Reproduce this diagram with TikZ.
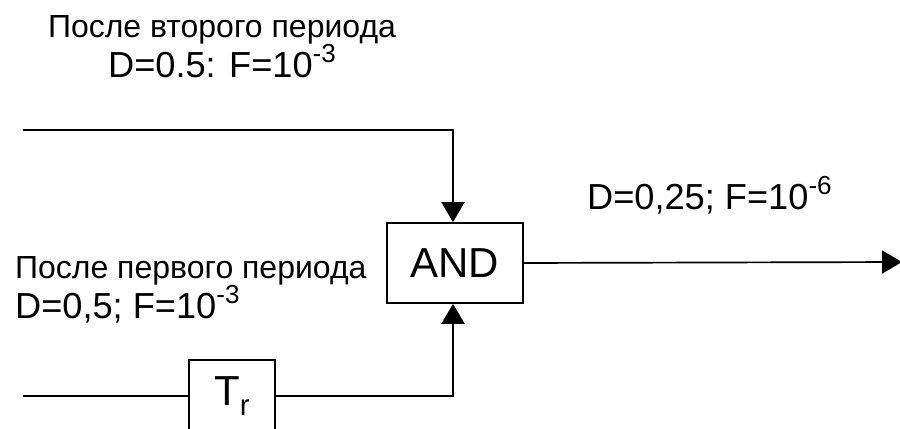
\documentclass[tikz,border=0pt]{standalone}
\usepackage{graphicx}
\usepackage{fontspec}
\setmainfont{Liberation Sans}
\usetikzlibrary{arrows.meta}

\newcommand{\cyrsize}{\fontsize{45.5}{57}\selectfont}
\newcommand{\latsize}{\fontsize{51.5}{61}\selectfont}
\newcommand{\expo}[1]{\raisebox{0.42em}{\scalebox{0.72}{#1}}}

\tikzset{
	gate/.style={draw,line width=2.4pt,inner sep=0pt,font=\fontsize{59.7}{72}\selectfont},
	wire/.style={line width=2.4pt},
	sig/.style={wire,-{Triangle[length=1cm,width=1.15cm]}},
	lbl/.style={inner sep=0pt}
}

\begin{document}
\begin{tikzpicture}
		\useasboundingbox (0,0) rectangle (45,21.45);
		% blocks
		\node[gate,minimum width=6.8cm,minimum height=4cm] (and) at (22.75,8.3) {AND};
		\node[gate,minimum width=4.3cm,minimum height=3.6cm] (tr) at (11.6,1.65) {T\textsubscript{r}};
		% free ends
		\coordinate (in1) at (1.15,14.95);
		\coordinate (in2) at (1.15,1.65);
		\coordinate (out) at (45.1,8.35);
		% wires
		\draw[sig] (in1) -| ([xshift=-0.1cm]and.north);
		\draw[wire] (in2) -- (tr.west);
		\draw[sig] (tr.east) -| ([xshift=-0.1cm]and.south);
		\draw[sig] (and.east) -- (out);
		% labels
		\node[lbl,align=center,anchor=north] (second) at (11.1,20.7) {{\cyrsize После второго периода}\\{\latsize D=0.5: F=10\expo{-3}}};
		\node[lbl,align=left,anchor=north west] (first) at (0.75,8.65) {{\cyrsize После первого периода}\\{\latsize D=0,5; F=10\expo{-3}}};
		\node[lbl,anchor=base west,font=\latsize] (result) at (29.35,10.95) {D=0,25; F=10\expo{-6}};
\end{tikzpicture}
\end{document}
